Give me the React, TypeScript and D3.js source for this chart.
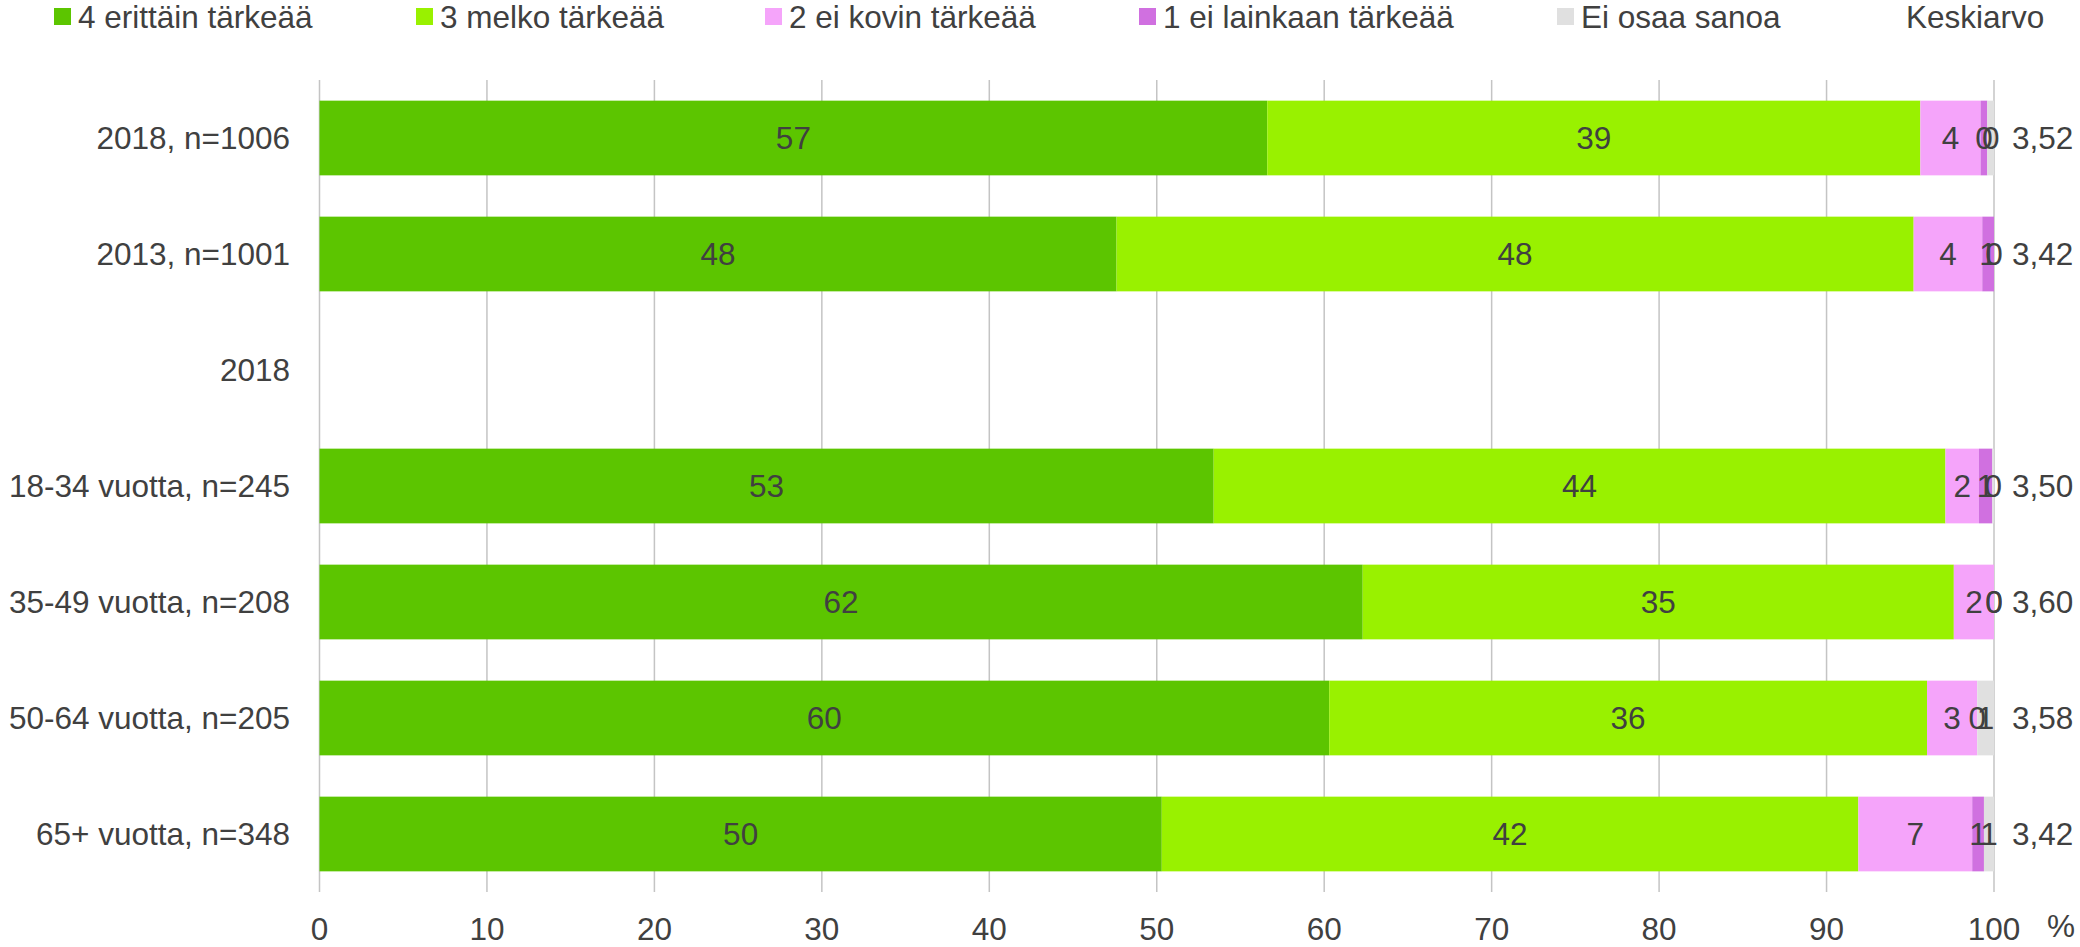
import React from "react";
import * as d3 from "d3";

const categories = [
  "2018, n=1006",
  "2013, n=1001",
  "2018",
  "18-34 vuotta, n=245",
  "35-49 vuotta, n=208",
  "50-64 vuotta, n=205",
  "65+ vuotta, n=348",
];
const seriesNames = [
  "4 erittäin tärkeää",
  "3 melko tärkeää",
  "2 ei kovin tärkeää",
  "1 ei lainkaan tärkeää",
  "Ei osaa sanoa",
];
const s4 = [56.6, 47.6, null, 53.4, 62.3, 60.3, 50.3];
const s3 = [39.0, 47.6, null, 43.7, 35.3, 35.7, 41.6];
const s2 = [3.6, 4.1, null, 2.0, 2.4, 3.0, 6.8];
const s1 = [0.4, 0.7, null, 0.8, 0.0, 0.0, 0.7];
const s0 = [0.4, 0.0, null, 0.1, 0.0, 1.0, 0.6];
const means = ["3,52", "3,42", "", "3,50", "3,60", "3,58", "3,42"];
const xTicks = [0, 10, 20, 30, 40, 50, 60, 70, 80, 90, 100];
const meanTitle = "Keskiarvo";

const colors = ["#5cc500", "#99f100", "#f5a4fa", "#d070e0", "#e0e0e0"];
const FONT = "'Liberation Sans', Arial, Helvetica, sans-serif";
const TXT = "#404040";
const FS = 31.5;

export default function App() {
  const W = 2080;
  const H = 947;
  const x = d3.scaleLinear().domain([0, 100]).range([319.5, 1994]);
  const y = d3
    .scaleBand<string>()
    .domain(categories)
    .range([80, 892])
    .paddingInner(0.356)
    .paddingOuter(0.178);

  const seriesArrays = [s4, s3, s2, s1, s0];
  const rows = categories.map((c, i) => {
    const r: any = { cat: c, has: s4[i] !== null };
    seriesNames.forEach((k, j) => {
      r[k] = seriesArrays[j][i] ?? 0;
    });
    return r;
  });
  const stacked = d3.stack<any>().keys(seriesNames)(rows);

  const legendX = [54, 416, 765, 1139, 1557];
  const capHalf = FS * 0.358;

  return (
    <svg
      width={W}
      height={H}
      style={{ position: "absolute", left: 0, top: 0, background: "#fff" }}
      fontFamily={FONT}
    >
      <rect x={0} y={0} width={W} height={H} fill="#fff" />
      {/* legend */}
      {seriesNames.map((n, i) => (
        <g key={n}>
          <rect x={legendX[i]} y={8} width={17} height={17} fill={colors[i]} />
          <text x={legendX[i] + 24} y={28} fontSize={FS} fill={TXT}>
            {n}
          </text>
        </g>
      ))}
      <text x={1906} y={28} fontSize={FS} fill={TXT}>
        {meanTitle}
      </text>

      {/* gridlines */}
      {xTicks.map((t) => (
        <line
          key={t}
          x1={x(t)}
          x2={x(t)}
          y1={80}
          y2={892}
          stroke="#c4c4c4"
          strokeWidth={1.5}
        />
      ))}

      {/* bars */}
      {stacked.map((layer, j) => (
        <g key={layer.key}>
          {layer.map((d, i) =>
            rows[i].has ? (
              <rect
                key={i}
                x={x(d[0])}
                y={y(categories[i])}
                width={Math.max(0, x(d[1]) - x(d[0]))}
                height={y.bandwidth()}
                fill={colors[j]}
              />
            ) : null
          )}
        </g>
      ))}

      {/* data labels */}
      {stacked.map((layer, j) => (
        <g key={"l" + layer.key}>
          {layer.map((d, i) =>
            rows[i].has ? (
              <text
                key={i}
                x={(x(d[0]) + x(d[1])) / 2}
                y={(y(categories[i]) as number) + y.bandwidth() / 2 + capHalf}
                fontSize={FS}
                fill={TXT}
                textAnchor="middle"
              >
                {Math.round(d[1] - d[0])}
              </text>
            ) : null
          )}
        </g>
      ))}

      {/* means */}
      {categories.map((c, i) => (
        <text
          key={"m" + c}
          x={x(100) + 18}
          y={(y(c) as number) + y.bandwidth() / 2 + capHalf}
          fontSize={FS}
          fill={TXT}
        >
          {means[i]}
        </text>
      ))}

      {/* category labels */}
      {categories.map((c) => (
        <text
          key={"c" + c}
          x={290}
          y={(y(c) as number) + y.bandwidth() / 2 + capHalf}
          fontSize={FS}
          fill={TXT}
          textAnchor="end"
        >
          {c}
        </text>
      ))}

      {/* x tick labels */}
      {xTicks.map((t) => (
        <text
          key={"t" + t}
          x={x(t)}
          y={940}
          fontSize={FS}
          fill={TXT}
          textAnchor="middle"
        >
          {t}
        </text>
      ))}
      <text x={2047} y={937} fontSize={FS} fill={TXT}>
        %
      </text>
    </svg>
  );
}
